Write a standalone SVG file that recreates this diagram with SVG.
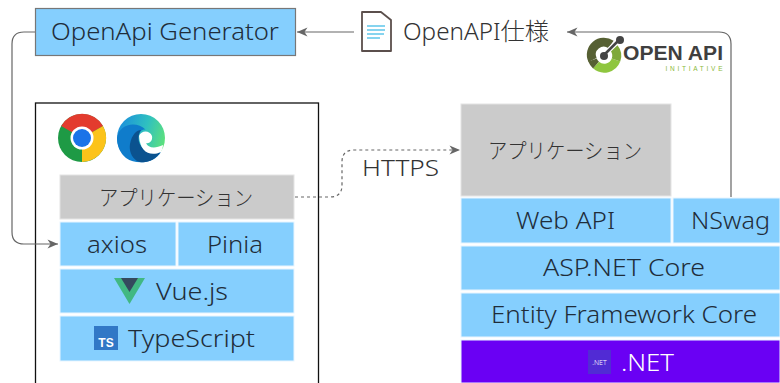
<svg xmlns="http://www.w3.org/2000/svg" width="780" height="383" viewBox="0 0 780 383">
<defs>
<marker id="arr" markerUnits="userSpaceOnUse" markerWidth="12" markerHeight="10" refX="11" refY="5" orient="auto"><path d="M0.500 0.500 L11 5 L0.500 9.500 L3.500 5 Z" fill="#666"/></marker>
<linearGradient id="edgeG" x1="0" y1="0.300" x2="1" y2="0.600"><stop offset="0" stop-color="#1b8fdc"/><stop offset="0.55" stop-color="#2fc0c0"/><stop offset="1" stop-color="#5fe27a"/></linearGradient>
</defs>
<style>
text{font-family:"Noto Sans","Noto Sans CJK JP",sans-serif;font-weight:300;fill:#1f2d3a;text-anchor:middle;font-size:24px}
.jp{font-family:"Noto Sans CJK JP",sans-serif;fill:#333;font-size:21px}
.b{fill:#85cffe;stroke:#e8f5ff;stroke-width:1}
.g{fill:#cbcbcb;stroke:#e4e4e4;stroke-width:1}
.c{fill:none;stroke:#666;stroke-width:1.200}
.w{fill:none;stroke-width:9}
</style>
<rect width="780" height="383" fill="#fff"/>
<g id="browser"><rect x="35.500" y="103" width="283" height="290" fill="#fff" stroke="#111" stroke-width="1.300"/>
<g id="chrome"><circle cx="82" cy="138" r="24" fill="#1e9a45"/><path d="M82 138 L61.200 126 A24 24 0 0 1 103 126 Z" fill="#e33b2e"/><path d="M82 138 L103 126 A24 24 0 0 1 82 162 Z" fill="#fcc31a"/><circle cx="82" cy="138" r="11.500" fill="#fff"/><circle cx="82" cy="138" r="9" fill="#1a73e8"/></g>
<g id="edge"><circle cx="141" cy="138" r="24" fill="url(#edgeG)"/><path d="M117 138 C119 124 136 120 146 130 C142 128 136 134 139 142 C141 152 155 156 161 152 C154 164 136 165 126 158 C120 153 117 146 117 138Z" fill="#0f7ccb"/><path d="M130 144 C132 134 137 130 141 130 C137 136 137 146 147 151 C153 154 158 153 161 151 C155 162 143 164 137 161 C131 157 129 150 130 144Z" fill="#0b528f"/><path d="M139 136 C141 130 150 130 152 136 C153 141 149 144 146 143 C148 148 155 149 163 145 C163 147 162 150 161 152 C150 157 140 152 139 136Z" fill="#fff"/></g>
</g>
<g id="generator"><rect x="35.500" y="8.500" width="260" height="47" fill="#85cffe" stroke="#777" stroke-width="1.200"/><text x="165" y="40" textLength="228" lengthAdjust="spacingAndGlyphs">OpenApi Generator</text></g>
<g id="spec">
<path d="M362 12 H381 L391 20 V51 H362 Z" fill="#fff" stroke="#5b4f4c" stroke-width="1.800" stroke-linejoin="round"/>
<path d="M367 26 H385 M367 30 H385 M367 34 H384 M367 38 H380" stroke="#86d4ef" stroke-width="2.200"/>
<text x="476" y="40" style="fill:#333" textLength="146" lengthAdjust="spacingAndGlyphs">OpenAPI仕様</text></g>
<g id="oai-logo">
<path class="w" stroke="#566033" d="M592.500 60 A12.500 12.500 0 0 1 611 44.500"/>
<path class="w" stroke="#8fc63f" d="M616 60 A12.500 12.500 0 0 1 596 65"/>
<path class="w" stroke="#566033" d="M596 65 A12.500 12.500 0 0 1 592.500 60"/>
<path class="w" stroke="#7fa93a" d="M614 48 A12.500 12.500 0 0 1 616 60"/>
<path d="M604 55 L620 39" stroke="#fff" stroke-width="5"/><path d="M604 55 L620 39" stroke="#444" stroke-width="2.500"/><circle cx="604" cy="56" r="4" fill="#444"/><circle cx="620" cy="40" r="4" fill="#444"/>
<text x="673" y="60" style="font-family:'Liberation Sans',sans-serif;font-weight:700;fill:#3f3f3f;font-size:20px" textLength="100" lengthAdjust="spacingAndGlyphs">OPEN API</text>
<text x="694" y="71" style="font-family:'Liberation Sans',sans-serif;font-weight:400;fill:#8ab93c;font-size:6.500px" textLength="57">INITIATIVE</text></g>
<g id="client-app"><rect class="g" x="60" y="175" width="234" height="44"/><text class="jp" x="176" y="205" textLength="154" lengthAdjust="spacingAndGlyphs">アプリケーション</text></g>
<g id="axios"><rect class="b" x="60" y="222" width="116" height="44"/><text x="117" y="253" textLength="60" lengthAdjust="spacingAndGlyphs">axios</text></g>
<g id="pinia"><rect class="b" x="178" y="222" width="116" height="44"/><text x="235" y="253" textLength="56" lengthAdjust="spacingAndGlyphs">Pinia</text></g>
<g id="vue"><rect class="b" x="60" y="269" width="234" height="44"/><path d="M114 278 H145 L129.500 304 Z" fill="#41b883"/><path d="M121 278 H138 L129.500 292 Z" fill="#35495e"/><text x="192" y="300" textLength="72" lengthAdjust="spacingAndGlyphs">Vue.js</text></g>
<g id="ts"><rect class="b" x="60" y="316" width="234" height="45"/><rect x="94" y="326" width="24" height="24" fill="#3178c6"/><text x="106" y="347" style="fill:#fff;font-size:12px;font-weight:700;font-family:'Liberation Sans',sans-serif">TS</text><text x="191.500" y="347" textLength="127" lengthAdjust="spacingAndGlyphs">TypeScript</text></g>
<g id="server-app"><rect class="g" x="461" y="104" width="210" height="92"/><text class="jp" x="565" y="158" textLength="154" lengthAdjust="spacingAndGlyphs">アプリケーション</text></g>
<g id="webapi"><rect class="b" x="461" y="198" width="210" height="45"/><text x="565.500" y="229" textLength="99" lengthAdjust="spacingAndGlyphs">Web API</text></g>
<g id="nswag"><rect class="b" x="673" y="198" width="107" height="45"/><text x="730.500" y="229" textLength="79" lengthAdjust="spacingAndGlyphs">NSwag</text></g>
<g id="aspnet"><rect class="b" x="461" y="246" width="319" height="44"/><text x="624" y="276" textLength="162" lengthAdjust="spacingAndGlyphs">ASP.NET Core</text></g>
<g id="ef"><rect class="b" x="461" y="293" width="319" height="44"/><text x="624" y="323" textLength="266" lengthAdjust="spacingAndGlyphs">Entity Framework Core</text></g>
<g id="dotnet"><rect x="461" y="340" width="319" height="43" fill="#6a00f4" stroke="#e8f5ff"/><rect x="588" y="350" width="23" height="24" fill="#512bd4"/><text x="599.500" y="365" style="fill:#fff;font-size:7px">.NET</text><text x="647.500" y="371" style="fill:#fff" textLength="53" lengthAdjust="spacingAndGlyphs">.NET</text></g>
<g id="https"><text x="400.500" y="176" style="fill:#333;font-size:22px" textLength="77" lengthAdjust="spacingAndGlyphs">HTTPS</text></g>
<g id="connectors">
<path class="c" d="M35 32 H24 Q12 32 12 44 V232 Q12 244 24 244 H58" marker-end="url(#arr)"/>
<path class="c" d="M354 32 H297" marker-end="url(#arr)"/>
<path class="c" d="M731 197 V44 Q731 32 719 32 H567" marker-end="url(#arr)"/>
<path class="c" d="M295 197 H330 Q342 197 342 185 V162 Q342 150 354 150 H460" stroke-dasharray="3 3" marker-end="url(#arr)"/>
</g>
</svg>
